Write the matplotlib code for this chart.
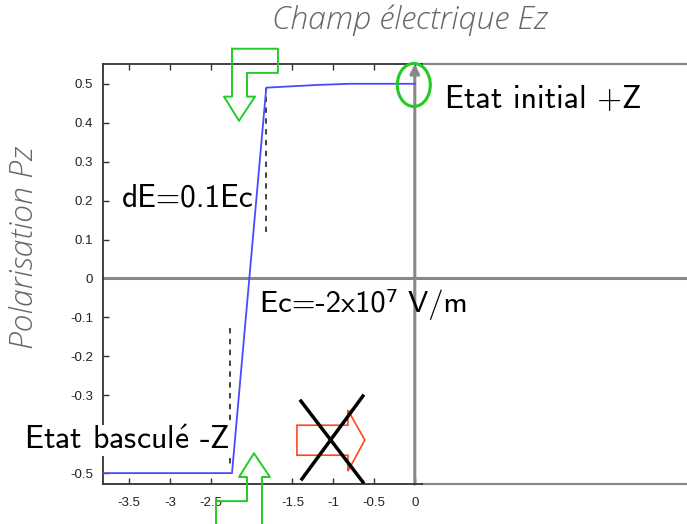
import numpy as np
import matplotlib.pyplot as plt
from matplotlib.patches import Polygon, Ellipse
from matplotlib.transforms import blended_transform_factory

plt.rcParams['mathtext.fontset'] = 'cm'

# --- Data: polarisation Pz vs electric field Ez ---
E_field = [-3.82, -2.24, -1.82, -1.2, -0.8, 0.0]
P_z = [-0.5, -0.5, 0.49, 0.497, 0.5, 0.5]

# dashed markers (dE = 0.1 Ec)
dash_up_x = [-1.82, -1.82]
dash_up_y = [0.12, 0.49]
dash_lo_x = [-2.26, -2.26]
dash_lo_y = [-0.127, -0.487]

x_ticks = [-3.5, -3, -2.5, -1.5, -1, -0.5, 0]
x_tick_labels = ['-3.5', '-3', '-2.5', '-1.5', '-1', '-0.5', '0']
y_ticks = [0.5, 0.4, 0.3, 0.2, 0.1, 0, -0.1, -0.2, -0.3, -0.4, -0.5]
# -0.4 is hidden behind the "Etat basculé" label in the original
y_tick_labels = ['0.5', '0.4', '0.3', '0.2', '0.1', '0', '-0.1', '-0.2', '-0.3', '', '-0.5']

# --- Annotation shapes (data coords) ---
green_top_x = [-2.24, -1.677, -1.677, -2.056, -2.056, -1.958, -2.154, -2.338, -2.24, -2.24]
green_top_y = [0.59, 0.59, 0.528, 0.528, 0.467, 0.467, 0.405, 0.467, 0.467, 0.59]
green_bot_x = [-2.436, -2.436, -2.056, -2.056, -2.154, -1.971, -1.775, -1.873, -1.873]
green_bot_y = [-0.647, -0.572, -0.572, -0.510, -0.510, -0.449, -0.510, -0.510, -0.647]
red_x = [-1.444, -0.820, -0.820, -0.612, -0.820, -0.820, -1.444]
red_y = [-0.377, -0.377, -0.338, -0.415, -0.495, -0.454, -0.454]
cross1_x, cross1_y = [-1.395, -0.636], [-0.315, -0.523]
cross2_x, cross2_y = [-0.636, -1.383], [-0.302, -0.515]

GREEN = '#22cc22'
GRAY = '#888888'
big_font = ['cmss10', 'DejaVu Sans']
tick_font = ['Liberation Sans', 'DejaVu Sans']

fig = plt.figure(figsize=(6.87, 5.24), dpi=100)
ax = fig.add_axes([0.150, 0.0763, 0.464, 0.8017])
ax.set_xlim(-3.82, 0.086)
ax.set_ylim(-0.528, 0.551)

# --- Curve ---
ax.plot(E_field, P_z, color='#4a4aff', lw=1.3, zorder=4)
ax.plot(dash_up_x, dash_up_y, color='#333333', lw=1.3, ls=(0, (3, 3)), zorder=3)
ax.plot(dash_lo_x, dash_lo_y, color='#333333', lw=1.3, ls=(0, (3, 3)), zorder=3)

# --- Axes style ---
for s in ['left', 'top', 'bottom']:
    ax.spines[s].set_color('#333333')
    ax.spines[s].set_linewidth(1.3)
ax.spines['right'].set_visible(False)
ax.set_xticks(x_ticks)
ax.set_xticklabels(x_tick_labels)
ax.set_yticks(y_ticks)
ax.set_yticklabels(y_tick_labels)
ax.tick_params(direction='in', length=4, width=1, color='#333333',
               top=True, right=False, labelsize=9.5, labelcolor='#222222')
ax.tick_params(axis='x', pad=9)
ax.tick_params(axis='y', pad=7)
for lab in ax.get_xticklabels() + ax.get_yticklabels():
    lab.set_family(tick_font)

# gray axis lines extending to the figure edge
tr = blended_transform_factory(fig.transFigure, ax.transData)
ax.plot([0.150, 1.0], [0, 0], color=GRAY, lw=2.2, transform=tr, clip_on=False, zorder=2)
top_y, bot_y = ax.get_ylim()[1], ax.get_ylim()[0]
ax.plot([0.614, 1.0], [top_y, top_y], color=GRAY, lw=1.6, transform=tr, clip_on=False)
ax.plot([0.614, 1.0], [bot_y, bot_y], color=GRAY, lw=1.6, transform=tr, clip_on=False)
ax.annotate('', xy=(0, top_y), xytext=(0, bot_y),
            arrowprops=dict(arrowstyle='-|>', color=GRAY, lw=2.2,
                            mutation_scale=14, shrinkA=0, shrinkB=0),
            annotation_clip=False, zorder=2)

# --- Shapes ---
ax.plot(green_top_x, green_top_y, color=GREEN, lw=1.4, clip_on=False, zorder=6)
ax.plot(green_bot_x, green_bot_y, color=GREEN, lw=1.4, clip_on=False, zorder=6)
ax.add_patch(Polygon(list(zip(red_x, red_y)), closed=True, fill=False,
                     edgecolor='#ff4422', lw=1.2, zorder=5))
ax.plot(cross1_x, cross1_y, color='black', lw=2.5, zorder=6)
ax.plot(cross2_x, cross2_y, color='black', lw=2.5, zorder=6)
ax.add_patch(Ellipse((-0.012, 0.497), 0.404, 0.1105, fill=False,
                     edgecolor=GREEN, lw=2.2, clip_on=False, zorder=6))

# --- Texts ---
ax.text(0.367, 0.438, 'Etat initial +Z', family=big_font, fontsize=23,
        va='baseline', ha='left', clip_on=False, zorder=7)
ax.text(-3.586, 0.184, 'dE=0.1Ec', family=big_font, fontsize=22.5,
        va='baseline', ha='left', zorder=7)
ax.text(-1.897, -0.086, 'Ec=-2x10⁷ V/m', family=big_font, fontsize=22,
        va='baseline', ha='left', clip_on=False, zorder=7)
ax.text(-2.264, -0.438, 'Etat bascul$\\mathsf{\\acute{e}}$ -Z', family=big_font,
        fontsize=23, va='baseline', ha='right', clip_on=False, zorder=7,
        bbox=dict(facecolor='white', edgecolor='none', pad=1))

fig.text(0.597, 0.962, 'Champ électrique Ez', family=['Open Sans', 'DejaVu Sans'],
         style='italic', fontweight='light', fontsize=23, color='#666666',
         ha='center', va='center')
fig.text(0.035, 0.527, 'Polarisation Pz', family=['Open Sans', 'DejaVu Sans'],
         style='italic', fontweight='light', fontsize=23, color='#666666',
         ha='center', va='center', rotation=90)

fig.savefig('out.png', dpi=100)
